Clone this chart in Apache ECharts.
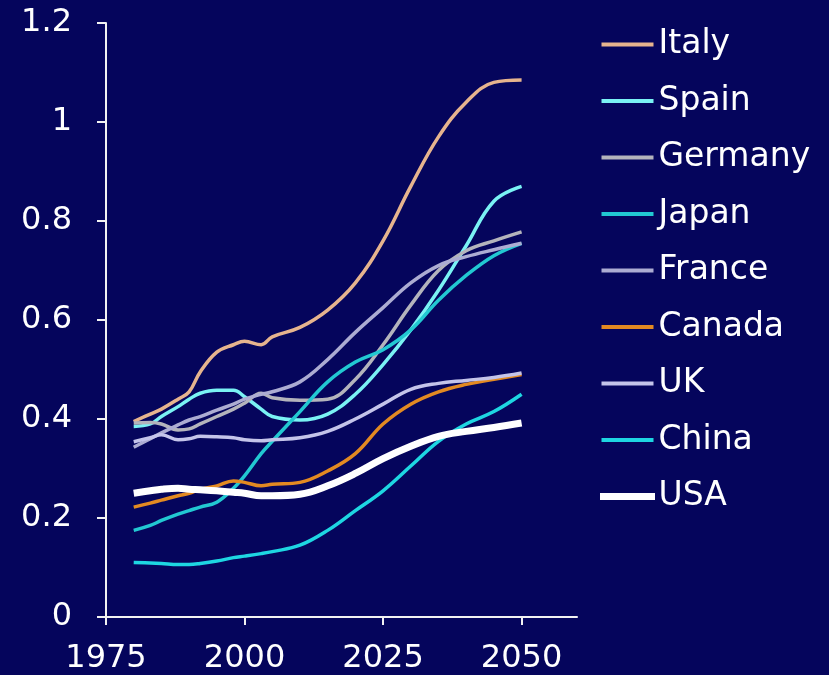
<!DOCTYPE html>
<html>
<head>
<meta charset="utf-8">
<script src="https://cdn.jsdelivr.net/npm/echarts@6/dist/echarts.min.js"></script>
<style>
html,body{margin:0;padding:0;background:#05055c;}
#chart{width:829px;height:675px;}
</style>
</head>
<body>
<div id="chart"></div>
<script>
const years = [1980,1983,1985,1988,1990,1992,1995,1998,2000,2003,2005,2010,2015,2020,2025,2030,2035,2040,2045,2050];
const italy   = [.395,.41,.42,.44,.455,.495,.535,.55,.557,.55,.566,.585,.62,.675,.76,.87,.97,1.04,1.08,1.085];
const spain   = [.385,.39,.405,.425,.44,.452,.458,.458,.445,.42,.405,.398,.41,.45,.51,.58,.66,.75,.84,.87];
const germany = [.392,.393,.39,.378,.38,.39,.405,.42,.432,.452,.443,.438,.44,.48,.55,.63,.70,.74,.76,.778];
const japan   = [.175,.185,.195,.208,.215,.222,.232,.26,.285,.33,.355,.415,.475,.515,.54,.58,.64,.69,.73,.755];
const france  = [.343,.36,.372,.388,.398,.405,.418,.43,.44,.45,.455,.475,.52,.575,.625,.675,.71,.728,.742,.755];
const canada  = [.222,.23,.236,.245,.25,.258,.265,.275,.272,.265,.268,.272,.295,.33,.39,.43,.455,.47,.48,.49];
const uk      = [.354,.362,.368,.358,.36,.365,.364,.362,.358,.356,.358,.362,.375,.40,.43,.46,.472,.478,.484,.493];
const china   = [.11,.109,.108,.106,.106,.108,.113,.12,.123,.128,.132,.145,.175,.215,.255,.305,.355,.39,.415,.45];
const usa     = [.25,.255,.258,.26,.258,.257,.255,.252,.25,.245,.245,.248,.265,.29,.32,.345,.365,.375,.383,.392];
const xTicks = [1975,2000,2025,2050];
const seriesNames = ['Italy','Spain','Germany','Japan','France','Canada','UK','China','USA'];
const seriesValues = [italy,spain,germany,japan,france,canada,uk,china,usa];
const colors = ['#e6b48e','#7af2f4','#b4b4bc','#22c8d2','#acacd2','#e38a22','#c4c4ea','#1ed6e2','#ffffff'];
const widths = [3.5,3.5,3.5,3.5,3.5,3.5,3.5,3.5,7];

const chart = echarts.init(document.getElementById('chart'));
const font = '"DejaVu Sans", sans-serif';
chart.setOption({
  backgroundColor: '#05055c',
  animation: false,
  grid: {left: 106, top: 23, right: 252, bottom: 58, containLabel: false},
  legend: {
    orient: 'vertical', left: 595, top: 23,
    itemWidth: 52, itemHeight: 4, itemGap: 23.5,
    icon: 'rect',
    textStyle: {color: '#ffffff', fontSize: 33, fontFamily: font},
    data: seriesNames.map((n, i) => i === 8
      ? {name: n, itemStyle: {color: colors[i], borderColor: colors[i], borderWidth: 3}}
      : {name: n})
  },
  xAxis: {
    type: 'value', min: 1975, max: 2060, interval: 25,
    axisLine: {show: true, lineStyle: {color: '#f2f2f2', width: 2}},
    axisTick: {show: true, length: 8, lineStyle: {color: '#f2f2f2', width: 2}, customValues: xTicks},
    axisLabel: {color: '#ffffff', fontSize: 32, fontFamily: font, margin: 26, customValues: xTicks,
      formatter: v => String(v)},
    splitLine: {show: false}
  },
  yAxis: {
    type: 'value', min: 0, max: 1.2, interval: 0.2,
    axisLine: {show: true, lineStyle: {color: '#f2f2f2', width: 2}},
    axisTick: {show: true, length: 9, lineStyle: {color: '#f2f2f2', width: 2}},
    axisLabel: {color: '#ffffff', fontSize: 32, fontFamily: font, margin: 34},
    splitLine: {show: false}
  },
  series: seriesNames.map((n, i) => ({
    name: n, type: 'line', smooth: 0.4, symbol: 'none',
    data: years.map((y, k) => [y, seriesValues[i][k]]),
    itemStyle: {color: colors[i]},
    lineStyle: {color: colors[i], width: widths[i]},
    z: i === 8 ? 3 : 2
  }))
});
</script>
</body>
</html>
